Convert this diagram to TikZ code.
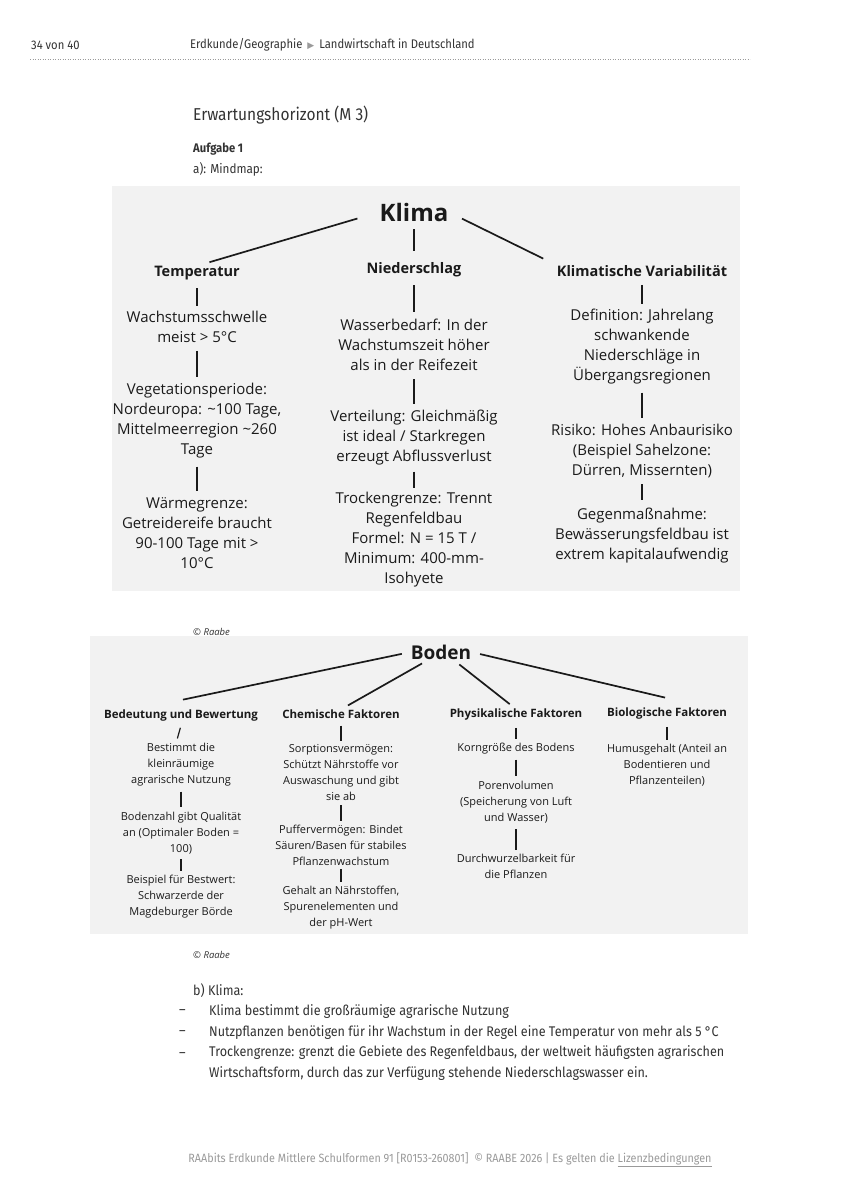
\documentclass[tikz,border=0pt]{standalone}
\usepackage{fontspec}
\newfontfamily\bodyfont{Fira Sans}[FakeStretch=0.9]
\newfontfamily\mmfont{Open Sans}
\newfontfamily\symfont{DejaVu Sans}
\definecolor{boxgrey}{HTML}{F2F2F2}
\definecolor{txt}{HTML}{333333}
\definecolor{mmtxt}{HTML}{1A1A1A}
\definecolor{foot}{HTML}{9A9A9A}
\tikzset{
  body/.style={font=\bodyfont\fontsize{14}{21.5}\selectfont, text=txt, inner sep=0pt, anchor=west},
  mm/.style={font=\mmfont\fontsize{15}{20}\selectfont, text=mmtxt, align=center, inner sep=0pt},
  kroot/.style={font=\mmfont\bfseries\fontsize{24}{28}\selectfont, text=mmtxt, inner sep=0pt},
  khead/.style={font=\mmfont\bfseries\fontsize{14.5}{18}\selectfont, text=mmtxt, inner sep=0pt},
  bm/.style={font=\mmfont\fontsize{11}{16}\selectfont, text=mmtxt, align=center, inner sep=0pt},
  broot/.style={font=\mmfont\bfseries\fontsize{19}{22}\selectfont, text=mmtxt, inner sep=0pt},
  bhead/.style={font=\mmfont\bfseries\fontsize{11.5}{14}\selectfont, text=mmtxt, inner sep=0pt},
  twig/.style={draw=mmtxt, line width=1.4pt},
  branch/.style={draw=mmtxt, line width=1.7pt},
}
\begin{document}
\begin{tikzpicture}[x=1pt,y=-1pt]
\useasboundingbox (0,0) rectangle (849,1200);
\fill[white] (0,0) rectangle (849,1200);
% header
\node[body, font=\bodyfont\fontsize{12.5}{14}\selectfont] (pg) at (31,45) {34 von 40};
\node[body, font=\bodyfont\fontsize{12.5}{14}\selectfont] (hd) at (190,45) {Erdkunde/Geographie \kern2pt{\symfont\fontsize{9}{10}\selectfont\color{foot}▶}\kern2pt{} Landwirtschaft in Deutschland};
\draw[foot, line width=0.5pt, dotted] (30,59) -- (750,59);
% titles
\node[body, font=\bodyfont\fontsize{17.2}{20}\selectfont] (title) at (193,115) {Erwartungshorizont (M 3)};
\node[body, font=\bodyfont\bfseries\fontsize{12.5}{16}\selectfont] (auf) at (193,149) {Aufgabe 1};
\node[body, font=\bodyfont\fontsize{13}{16}\selectfont] (mmlab) at (193,169) {a): Mindmap:};
% Klima box
\fill[boxgrey] (112,186) rectangle (740,591);
\node[kroot] (klima) at (414,212) {Klima};
\node[khead] (temp) at (197,273) {Temperatur};
\node[khead] (nied) at (414,270) {Niederschlag};
\node[khead] (var) at (642,271) {Klimatische Variabilität};
\draw[branch, shorten <=23pt, shorten >=13pt] (klima.west) -- (temp.north);
\draw[branch, shorten <=8pt, shorten >=12pt] (klima.south) -- (nied.north);
\draw[branch, shorten <=15pt, shorten >=15pt] (klima.east) -- (var.north west);
% left column
\node[mm] (t1) at (197,327) {Wachstumsschwelle\\meist > 5°C};
\node[mm] (t2) at (197,421) {Vegetationsperiode:\\Nordeuropa: \textasciitilde100 Tage,\\Mittelmeerregion \textasciitilde260\\Tage};
\node[mm] (t3) at (197,533) {Wärmegrenze:\\Getreidereife braucht\\90-100 Tage mit >\\10°C};
\draw[twig, shorten <=8pt, shorten >=5pt] (temp.south) -- (t1.north);
\draw[twig, shorten <=8pt, shorten >=6pt] (t1.south) -- (t2.north);
\draw[twig, shorten <=8pt, shorten >=6pt] (t2.south) -- (t3.north);
% middle column
\node[mm] (n1) at (414,345) {Wasserbedarf: In der\\Wachstumszeit höher\\als in der Reifezeit};
\node[mm] (n2) at (414,438) {Verteilung: Gleichmäßig\\ist ideal / Starkregen\\erzeugt Abflussverlust};
\node[mm] (n3) at (414,540) {Trockengrenze: Trennt\\Regenfeldbau\\Formel: N = 15 T /\\Minimum: 400-mm-\\Isohyete};
\draw[twig, shorten <=8pt, shorten >=7pt] (nied.south) -- (n1.north);
\draw[twig, shorten <=8pt, shorten >=6pt] (n1.south) -- (n2.north);
\draw[twig, shorten <=6pt, shorten >=4pt] (n2.south) -- (n3.north);
% right column
\node[mm] (v1) at (642,347) {Definition: Jahrelang\\schwankende\\Niederschläge in\\Übergangsregionen};
\node[mm] (v2) at (642,451) {Risiko: Hohes Anbaurisiko\\(Beispiel Sahelzone:\\Dürren, Missernten)};
\node[mm] (v3) at (642,536) {Gegenmaßnahme:\\Bewässerungsfeldbau ist\\extrem kapitalaufwendig};
\draw[twig, shorten <=8pt, shorten >=5pt] (var.south) -- (v1.north);
\draw[twig, shorten <=8pt, shorten >=6pt] (v1.south) -- (v2.north);
\draw[twig, shorten <=6pt, shorten >=8pt] (v2.south) -- (v3.north);
\node[body, font=\mmfont\itshape\fontsize{9.5}{11}\selectfont] (cr1) at (193,632) {© Raabe};
% Boden box
\fill[boxgrey] (90,636) rectangle (748,934);
\node[broot] (boden) at (441,652) {Boden};
\node[bhead] (bed) at (181,716) {Bedeutung und Bewertung};
\node[bhead] (chem) at (341,714) {Chemische Faktoren};
\node[bhead] (phys) at (516,715) {Physikalische Faktoren};
\node[bhead] (bio) at (667,714) {Biologische Faktoren};
\draw[branch, shorten <=9pt, shorten >=2pt] (boden.west) -- ([yshift=10pt]bed.north);
\draw[branch, shorten <=8pt, shorten >=8pt] ([xshift=-12pt]boden.south) -- (chem.north);
\draw[branch, shorten <=8pt, shorten >=8pt] ([xshift=12pt]boden.south) -- (phys.north);
\draw[branch, shorten <=9pt, shorten >=2pt] (boden.east) -- ([yshift=10pt]bio.north);
% column 1
\node[bm] (b1) at (181,765) {Bestimmt die\\kleinräumige\\agrarische Nutzung};
\node[bm] (b2) at (181,833) {Bodenzahl gibt Qualität\\an (Optimaler Boden =\\100)};
\node[bm] (b3) at (181,897) {Beispiel für Bestwert:\\Schwarzerde der\\Magdeburger Börde};
\draw[line width=1.2pt, mmtxt, shorten <=6pt, shorten >=5pt] ([xshift=1pt]bed.south) -- ([xshift=-5pt]b1.north);
\draw[twig, shorten <=5pt, shorten >=5pt] (b1.south) -- (b2.north);
\draw[twig, shorten <=5pt, shorten >=4pt] (b2.south) -- (b3.north);
% column 2
\node[bm] (c1) at (341,773) {Sorptionsvermögen:\\Schützt Nährstoffe vor\\Auswaschung und gibt\\sie ab};
\node[bm] (c2) at (341,845) {Puffervermögen: Bindet\\Säuren/Basen für stabiles\\Pflanzenwachstum};
\node[bm] (c3) at (341,908) {Gehalt an Nährstoffen,\\Spurenelementen und\\der pH-Wert};
\draw[twig, shorten <=7pt, shorten >=4pt] (chem.south) -- (c1.north);
\draw[twig, shorten <=4pt, shorten >=4pt] (c1.south) -- (c2.north);
\draw[twig, shorten <=4pt, shorten >=4pt] (c2.south) -- (c3.north);
% column 3
\node[bm] (p1) at (516,749) {Korngröße des Bodens};
\node[bm] (p2) at (516,802) {Porenvolumen\\(Speicherung von Luft\\und Wasser)};
\node[bm] (p3) at (516,866) {Durchwurzelbarkeit für\\die Pflanzen};
\draw[twig, shorten <=7pt, shorten >=4pt] (phys.south) -- (p1.north);
\draw[twig, shorten <=5pt, shorten >=5pt] (p1.south) -- (p2.north);
\draw[twig, shorten <=6pt, shorten >=4pt] (p2.south) -- (p3.north);
% column 4
\node[bm] (g1) at (667,765) {Humusgehalt (Anteil an\\Bodentieren und\\Pflanzenteilen)};
\draw[twig, shorten <=7pt, shorten >=4pt] (bio.south) -- (g1.north);
\node[body, font=\mmfont\itshape\fontsize{9.5}{11}\selectfont] (cr2) at (193,955) {© Raabe};
% part b
\node[body] (bk) at (193,991) {b) Klima:};
\node[body] (d1) at (179,1012) {–};
\node[body] (l1) at (209,1012) {Klima bestimmt die großräumige agrarische Nutzung};
\node[body] (d2) at (179,1033) {–};
\node[body] (l2) at (209,1033) {Nutzpflanzen benötigen für ihr Wachstum in der Regel eine Temperatur von mehr als 5 °C};
\node[body] (d3) at (179,1055) {–};
\node[body, anchor=north west, align=left] (l3) at (209,1045) {Trockengrenze: grenzt die Gebiete des Regenfeldbaus, der weltweit häufigsten agrarischen\\Wirtschaftsform, durch das zur Verfügung stehende Niederschlagswasser ein.};
% footer
\node[body, anchor=center, text=foot, font=\bodyfont\fontsize{12}{14}\selectfont] (ft) at (450,1160) {RAAbits Erdkunde Mittlere Schulformen 91 [R0153-260801] \ © RAABE 2026 | Es gelten die \underline{Lizenzbedingungen}};
\end{tikzpicture}
\end{document}
